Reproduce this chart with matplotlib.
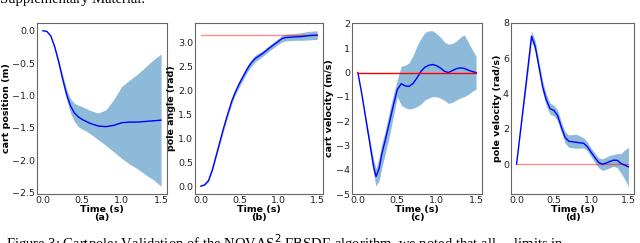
import matplotlib.pyplot as plt
import numpy as np

# ---- data ----
# (a) cart position
t_a = [0.0, 0.05, 0.1, 0.15, 0.2, 0.25, 0.3, 0.35, 0.4, 0.45, 0.5, 0.55, 0.6, 0.7, 0.8, 0.9, 1.0, 1.1, 1.2, 1.3, 1.4, 1.5]
pos_mean = [0.0, -0.01, -0.08, -0.25, -0.48, -0.74, -0.98, -1.16, -1.27, -1.33, -1.37, -1.40, -1.43, -1.47, -1.48, -1.46, -1.42, -1.41, -1.41, -1.40, -1.39, -1.38]
pos_lo = [0.0, -0.01, -0.09, -0.27, -0.52, -0.80, -1.06, -1.27, -1.40, -1.48, -1.52, -1.55, -1.59, -1.68, -1.77, -1.87, -1.97, -2.06, -2.13, -2.22, -2.30, -2.40]
pos_hi = [0.0, -0.01, -0.07, -0.23, -0.44, -0.68, -0.90, -1.05, -1.12, -1.15, -1.17, -1.20, -1.23, -1.27, -1.22, -1.06, -0.86, -0.76, -0.67, -0.56, -0.45, -0.36]

# (b) pole angle
t_b = [0.0, 0.05, 0.1, 0.15, 0.2, 0.25, 0.3, 0.35, 0.4, 0.45, 0.5, 0.55, 0.6, 0.65, 0.7, 0.8, 0.9, 1.0, 1.05, 1.1, 1.2, 1.3, 1.4, 1.5]
ang_mean = [0.0, 0.03, 0.12, 0.35, 0.65, 0.95, 1.25, 1.52, 1.78, 1.98, 2.15, 2.30, 2.45, 2.57, 2.66, 2.77, 2.90, 3.02, 3.08, 3.10, 3.11, 3.12, 3.14, 3.15]
ang_sd = [0.0, 0.01, 0.02, 0.03, 0.04, 0.05, 0.05, 0.06, 0.06, 0.06, 0.07, 0.07, 0.07, 0.07, 0.07, 0.06, 0.06, 0.06, 0.07, 0.07, 0.07, 0.08, 0.09, 0.09]
ang_target = 3.1416

# (c) cart velocity
t_c = [0.0, 0.05, 0.1, 0.15, 0.2, 0.23, 0.27, 0.3, 0.35, 0.4, 0.45, 0.5, 0.55, 0.6, 0.65, 0.7, 0.75, 0.8, 0.85, 0.9, 0.95, 1.0, 1.05, 1.1, 1.15, 1.2, 1.25, 1.3, 1.35, 1.4, 1.45, 1.5]
vel_mean = [0.0, -0.9, -1.9, -2.9, -3.9, -4.28, -3.95, -3.4, -2.75, -2.05, -1.35, -0.7, -0.46, -0.55, -0.57, -0.45, -0.22, 0.05, 0.22, 0.3, 0.33, 0.28, 0.18, 0.05, 0.0, 0.08, 0.16, 0.19, 0.17, 0.1, 0.04, 0.0]
vel_lo = [0.0, -0.95, -2.0, -3.1, -4.2, -4.67, -4.45, -3.95, -3.3, -2.6, -1.8, -1.0, -1.34, -1.45, -1.5, -1.47, -1.4, -1.3, -1.13, -1.05, -0.99, -1.0, -1.06, -1.15, -1.27, -1.22, -1.13, -1.05, -0.99, -0.9, -0.78, -0.68]
vel_hi = [0.0, -0.85, -1.8, -2.7, -3.6, -3.95, -3.5, -2.95, -2.35, -1.6, -0.9, -0.3, 0.26, 0.3, 0.4, 0.7, 1.1, 1.4, 1.65, 1.72, 1.72, 1.6, 1.45, 1.25, 1.17, 1.2, 1.3, 1.45, 1.55, 1.25, 0.95, 0.68]

# (d) pole velocity
t_d = [0.0, 0.05, 0.1, 0.15, 0.2, 0.25, 0.3, 0.35, 0.4, 0.45, 0.5, 0.55, 0.6, 0.65, 0.7, 0.8, 0.9, 0.95, 1.0, 1.05, 1.1, 1.15, 1.2, 1.25, 1.3, 1.35, 1.4, 1.45, 1.5]
pvel_mean = [0.0, 1.8, 3.6, 5.4, 7.25, 6.67, 5.52, 4.38, 3.62, 3.14, 3.05, 2.76, 2.1, 1.52, 1.3, 1.24, 1.18, 0.99, 0.67, 0.38, 0.1, 0.0, 0.06, 0.15, 0.23, 0.22, 0.04, -0.05, -0.15]
pvel_lo = [0.0, 1.7, 3.4, 5.1, 6.95, 6.35, 5.2, 4.05, 3.3, 2.82, 2.75, 2.45, 1.8, 1.2, 0.95, 0.9, 0.92, 0.75, 0.42, 0.1, -0.2, -0.35, -0.3, -0.2, -0.12, -0.2, -0.5, -0.85, -1.25]
pvel_hi = [0.0, 1.9, 3.8, 5.7, 7.55, 6.99, 5.84, 4.71, 3.94, 3.46, 3.35, 3.07, 2.4, 1.84, 1.65, 1.7, 1.5, 1.25, 0.92, 0.62, 0.36, 0.3, 0.4, 0.5, 0.55, 0.6, 0.6, 0.8, 0.95]

ylabels = ["cart position (m)", "pole angle (rad)", "cart velocity (m/s)", "pole velocity (rad/s)"]
letters = ["(a)", "(b)", "(c)", "(d)"]

plt.rcParams['font.family'] = 'DejaVu Sans'
plt.rcParams['font.size'] = 6.8

fig = plt.figure(figsize=(6.4, 2.43), dpi=100)
W, H = 640.0, 243.0
# axes boxes in pixel coords: left, right
boxes = [(37, 167), (195, 323), (352, 482), (511, 634)]
top, bottom = 23, 194
axes = []
for (l, r) in boxes:
    ax = fig.add_axes([l / W, 1 - bottom / H, (r - l) / W, (bottom - top) / H])
    axes.append(ax)

band = dict(color='C0', alpha=0.5, lw=0)
line = dict(color='blue', lw=1.0)

ax = axes[0]
ax.fill_between(t_a, pos_lo, pos_hi, **band)
ax.plot(t_a, pos_mean, **line)
ax.set_yticks([0.0, -0.5, -1.0, -1.5, -2.0, -2.5])

ax = axes[1]
ang_lo = np.array(ang_mean) - np.array(ang_sd)
ang_hi = np.array(ang_mean) + np.array(ang_sd)
ax.fill_between(t_b, ang_lo, ang_hi, **band)
ax.plot([0, 1.5], [ang_target, ang_target], color='red', alpha=0.45, lw=1.0)
ax.plot(t_b, ang_mean, **line)
ax.set_yticks([0.0, 0.5, 1.0, 1.5, 2.0, 2.5, 3.0])

ax = axes[2]
ax.fill_between(t_c, vel_lo, vel_hi, **band)
ax.plot(t_c, vel_mean, **line)
ax.plot([0, 1.5], [0, 0], color='red', lw=1.0)
ax.set_yticks([2, 1, 0, -1, -2, -3, -4, -5])

ax = axes[3]
ax.fill_between(t_d, pvel_lo, pvel_hi, **band)
ax.plot([0, 1.5], [0, 0], color='red', alpha=0.45, lw=1.0)
ax.plot(t_d, pvel_mean, **line)
ax.set_yticks([0, 2, 4, 6, 8])

for ax, yl, let in zip(axes, ylabels, letters):
    ax.set_xticks([0.0, 0.5, 1.0, 1.5])
    ax.set_ylabel(yl, fontweight='bold', labelpad=1)
    ax.set_xlabel("Time (s)\n" + let, fontweight='bold', labelpad=0, linespacing=0.85)
    ax.tick_params(length=0, pad=1.5, colors='#222222')
    for s in ax.spines.values():
        s.set_color('#666666')
        s.set_linewidth(0.8)

# bits of the surrounding page
fig.text(0.0, 1.0, "Supplementary Material.", family='Liberation Serif', fontsize=10.5,
         ha='left', va='center')
fig.text(0.01, 0.0, "Figure 3: Cartpole: Validation of the NOVAS$^2$ FBSDE algorithm, we noted that all ... limits in ... ",
         family='Liberation Serif', fontsize=10.5, ha='left', va='center')

fig.savefig("out.png", dpi=100)
